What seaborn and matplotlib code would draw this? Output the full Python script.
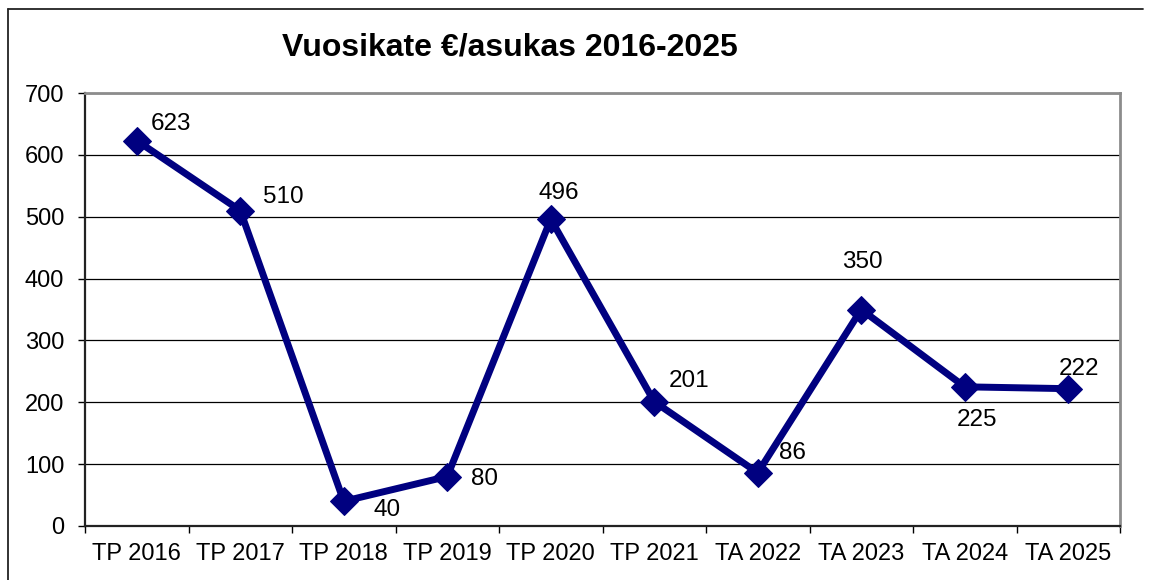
import matplotlib
matplotlib.use("Agg")
import matplotlib.pyplot as plt
import seaborn as sns
import pandas as pd
from matplotlib.lines import Line2D
from matplotlib.ticker import FixedLocator, NullFormatter, MultipleLocator

categories = ["TP 2016", "TP 2017", "TP 2018", "TP 2019", "TP 2020",
              "TP 2021", "TA 2022", "TA 2023", "TA 2024", "TA 2025"]
values = [623, 510, 40, 80, 496, 201, 86, 350, 225, 222]
# label offsets in points (dx, dy)
label_offsets = [(25, 12), (31, 10), (31, -6), (27, -2), (6, 19),
                 (25, 15), (25, 14), (1, 34), (9, -24), (8, 14)]

sns.set_theme(style="white")
plt.rcParams["font.family"] = ["Liberation Sans", "DejaVu Sans"]

fig = plt.figure(figsize=(11.53, 5.80), dpi=100)
ax = fig.add_axes([85/1153, 1-526/580, (1120-85)/1153, (526-93)/580])

df = pd.DataFrame({"cat": categories, "val": values})
sns.lineplot(data=df, x="cat", y="val", ax=ax, color="#000080", linewidth=5,
             marker="D", markersize=14, markeredgecolor="#000080", sort=False)

ax.set_xlim(-0.5, len(categories) - 0.5)
ax.set_ylim(0, 700)
ax.yaxis.set_major_locator(MultipleLocator(100))
ax.grid(axis="y", color="black", linewidth=0.9)
ax.set_axisbelow(True)

ax.xaxis.set_major_locator(FixedLocator([i - 0.5 for i in range(len(categories) + 1)]))
ax.xaxis.set_major_formatter(NullFormatter())
ax.xaxis.set_minor_locator(FixedLocator(list(range(len(categories)))))
ax.set_xticklabels(categories, minor=True)
ax.tick_params(axis="x", which="major", direction="out", length=5, width=1, color="black", bottom=True)
ax.tick_params(axis="x", which="minor", length=0, labelsize=17, pad=12, colors="black", bottom=True)
ax.tick_params(axis="y", direction="out", length=5, width=1, color="black", labelsize=17, pad=10, left=True, labelcolor="black")

ax.set_xlabel("")
ax.set_ylabel("")

for sp in ["left", "bottom"]:
    ax.spines[sp].set_color("#222222")
    ax.spines[sp].set_linewidth(1.6)
for sp in ["top", "right"]:
    ax.spines[sp].set_color("#8c8c8c")
    ax.spines[sp].set_linewidth(2)
    ax.spines[sp].set_visible(True)

for i, (v, (dx, dy)) in enumerate(zip(values, label_offsets)):
    ax.annotate(str(v), (i, v), xytext=(dx, dy), textcoords="offset points",
                ha="center", va="center", fontsize=17.5, color="black")

fig.text(510/1153, 1-48/580, "Vuosikate €/asukas 2016-2025", ha="center", va="center",
         fontsize=23, fontweight="bold", color="black")

# outer frame (left and top edges)
fig.add_artist(Line2D([8/1153, 8/1153], [0, 1-9/580], transform=fig.transFigure, color="#222222", linewidth=1.3))
fig.add_artist(Line2D([8/1153, 1143/1153], [1-9/580, 1-9/580], transform=fig.transFigure, color="#222222", linewidth=1.3))

fig.savefig("out.png", dpi=100, facecolor="white")
